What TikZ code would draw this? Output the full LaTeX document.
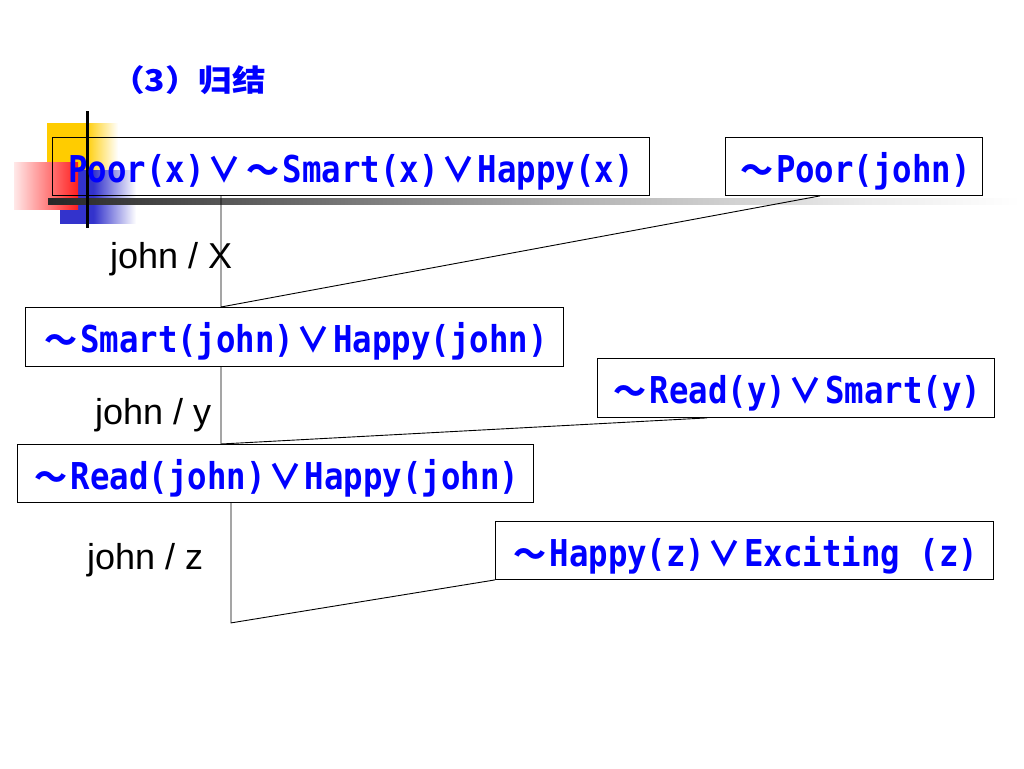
\documentclass[tikz,border=0pt]{standalone}
\usepackage{fontspec}
\setmainfont{Liberation Sans}
\newfontfamily\clausefont{DejaVu Sans Mono Bold}[FakeStretch=0.875]
\newfontfamily\cjk{Noto Sans CJK SC}
\newfontfamily\titlefont{Noto Sans CJK SC}[FakeStretch=1.12]
\usetikzlibrary{calc}
\definecolor{txtblue}{RGB}{0,0,255}
\definecolor{decoyellow}{RGB}{255,204,0}
\definecolor{decored}{RGB}{255,30,30}
\definecolor{decoblue}{RGB}{51,51,204}
\pgfdeclarehorizontalshading{barshade}{100bp}{color(0bp)=(black!85); color(25bp)=(black!85); color(32bp)=(black!70); color(52bp)=(black!30); color(67bp)=(black!8); color(75bp)=(white); color(100bp)=(white)}
\pgfdeclarehorizontalshading{yelshade}{100bp}{color(0bp)=(decoyellow); color(25bp)=(decoyellow); color(52bp)=(decoyellow); color(75bp)=(white); color(100bp)=(white)}
\pgfdeclarehorizontalshading{redshade}{100bp}{color(0bp)=(decored!10); color(25bp)=(decored!10); color(75bp)=(decored); color(100bp)=(decored)}
\pgfdeclarehorizontalshading{blushade}{100bp}{color(0bp)=(decoblue); color(25bp)=(decoblue); color(47bp)=(decoblue); color(75bp)=(white); color(100bp)=(white)}
\newcommand\myor{\makebox[39pt][c]{\cjk\bfseries\fontsize{34}{34}\selectfont ∨}}
\newcommand\myneg{\makebox[39pt][c]{\cjk\bfseries\fontsize{33}{33}\selectfont ～}}
\tikzset{
  clause/.style={draw=black, line width=0.9pt, inner sep=0pt, anchor=north west,
    text height=36pt, text depth=4pt,
    text=txtblue, font=\clausefont\fontsize{37}{37}\selectfont},
  conn/.style={draw=black, line width=0.9pt},
  sublabel/.style={font=\fontsize{36}{36}\selectfont, text=black, inner sep=0pt, anchor=base west},
}
\begin{document}
\begin{tikzpicture}[x=1pt,y=-1pt]
\useasboundingbox (0,0) rectangle (1024,768);
\fill[white] (0,0) rectangle (1024,768);
% decoration
\shade[shading=yelshade] (47,123) rectangle (118,190);
\shade[shading=blushade] (60,170) rectangle (136,223);
\shade[shading=redshade] (14,162) rectangle (78,209);
\shade[shading=barshade] (48,198) rectangle (1020,204);
\draw[line width=3pt] (87,111) -- (87,228);
% title
\node[font=\titlefont\bfseries\fontsize{30}{30}\selectfont, text=txtblue, anchor=west, inner sep=0pt] (title) at (111,80) {（3）归结};
% clauses
\node[clause, minimum width=597, minimum height=58] (b1) at (52,137) {Poor(x)\myor\myneg Smart(x)\myor Happy(x)};
\node[clause, minimum width=257, minimum height=58] (b2) at (725,137) {\myneg Poor(john)};
\node[clause, minimum width=538, minimum height=59] (b3) at (25,307) {\myneg Smart(john)\myor Happy(john)};
\node[clause, minimum width=397, minimum height=59] (b4) at (597,358) {\myneg Read(y)\myor Smart(y)};
\node[clause, minimum width=516, minimum height=58] (b5) at (17,444) {\myneg Read(john)\myor Happy(john)};
\node[clause, minimum width=498, minimum height=58] (b6) at (495,521) {\myneg Happy(z)\myor Exciting (z)};
% connectors
\coordinate (t1) at ($(b1.south west)+(169,0)$);
\coordinate (e1) at ($(b2.south west)+(95,0)$);
\draw[conn] (t1) -- (t1 |- b3.north) -- (e1);
\coordinate (t2) at ($(b3.south west)+(196,0)$);
\coordinate (e2) at ($(b4.south west)+(110,0)$);
\draw[conn] (t2) -- (t2 |- b5.north) -- (e2);
\coordinate (t3) at ($(b5.south west)+(214,0)$);
\coordinate (k3) at ($(t3)+(0,120)$);
\draw[conn] (t3) -- (k3) -- (b6.south west);
% substitution labels
\node[sublabel] (l1) at (110,268) {john / X};
\node[sublabel] (l2) at (95,424) {john / y};
\node[sublabel] (l3) at (87,569) {john / z};
\end{tikzpicture}
\end{document}
